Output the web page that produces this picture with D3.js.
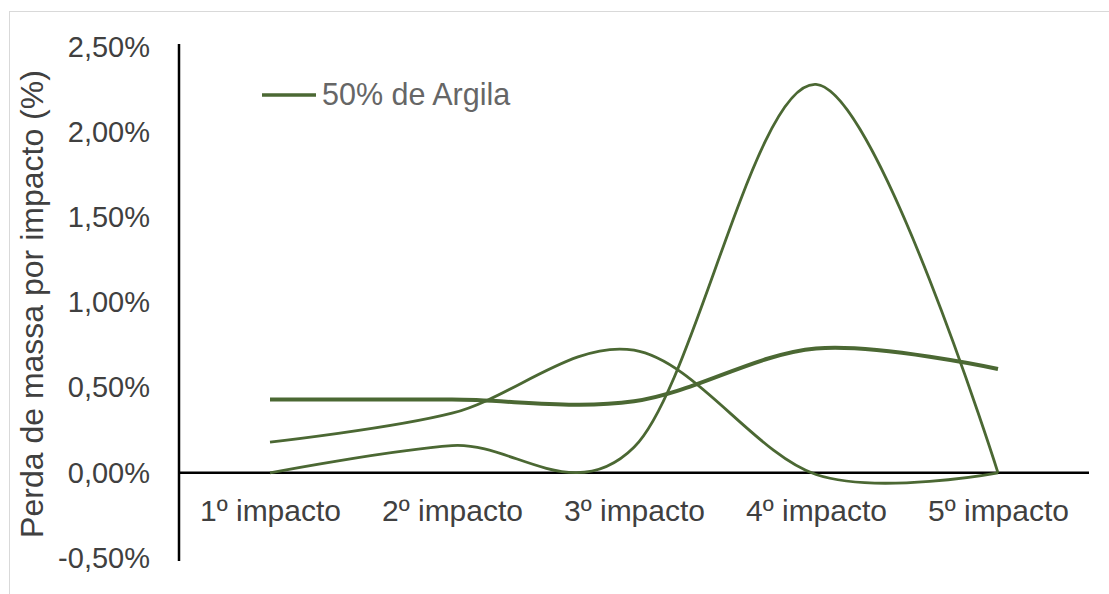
<!DOCTYPE html>
<html>
<head>
<meta charset="utf-8">
<script src="https://cdn.jsdelivr.net/npm/d3@7"></script>
<style>
  html, body { margin: 0; padding: 0; background: #fff; }
  svg { display: block; font-family: "Liberation Sans", Arial, sans-serif; }
</style>
</head>
<body>
<svg id="chart" width="1109" height="594"></svg>
<script>
// Mass loss per impact (%) for the 50% clay mix
const categories = ["1º impacto", "2º impacto", "3º impacto", "4º impacto", "5º impacto"];
const seriesMain = [0.43, 0.43, 0.42, 0.73, 0.61];
const seriesB = [0.18, 0.35, 0.72, -0.01, 0.00];
const seriesC = [0.00, 0.16, 0.15, 2.28, 0.00];
const yTicks = [-0.5, 0, 0.5, 1.0, 1.5, 2.0, 2.5];
const legendLabel = "50% de Argila";
const yTitle = "Perda de massa por impacto (%)";

const svg = d3.select("#chart");
const W = 1109, H = 594;
const lineColor = "#4b6833";
const textColor = "#404040";

// chart-area frame
svg.append("rect")
  .attr("x", 9.5).attr("y", 11.5)
  .attr("width", W + 20).attr("height", H + 20)
  .attr("fill", "#fff").attr("stroke", "#d9d9d9").attr("stroke-width", 1);

const x = d3.scalePoint().domain(categories).range([179, 1089]).padding(0.5);
const y = d3.scaleLinear().domain([-0.5, 2.5]).range([558, 47]);

const locale = d3.formatLocale({ decimal: ",", thousands: ".", grouping: [3], currency: ["", ""], minus: "-" });
const fmt = locale.format(".2f");

// y axis with tick labels
const yAxis = d3.axisLeft(y).tickValues(yTicks).tickSize(0).tickPadding(29)
  .tickFormat(d => fmt(d) + "%");
const gy = svg.append("g").attr("transform", "translate(179,0)").call(yAxis);
gy.select(".domain").remove();
gy.selectAll("text").attr("font-size", 29).attr("fill", textColor)
  .attr("font-family", "Liberation Sans, Arial, sans-serif");
svg.append("line").attr("x1", 179).attr("x2", 179).attr("y1", 44).attr("y2", 561)
  .attr("stroke", "#000").attr("stroke-width", 2.5);

// x axis at zero
const xAxis = d3.axisBottom(x).tickSize(0).tickPadding(27);
const gx = svg.append("g").attr("transform", `translate(0,${y(0)})`).call(xAxis);
gx.select(".domain").remove();
gx.selectAll("text").attr("font-size", 30).attr("fill", textColor)
  .attr("font-family", "Liberation Sans, Arial, sans-serif");
svg.append("line").attr("x1", 179).attr("x2", 1089).attr("y1", y(0)).attr("y2", y(0))
  .attr("stroke", "#000").attr("stroke-width", 2.5);

// y axis title
svg.append("text")
  .attr("transform", `translate(43,${304}) rotate(-90)`)
  .attr("text-anchor", "middle")
  .attr("font-size", 32).attr("fill", textColor)
  .text(yTitle);

// smoothed series lines
const line = d3.line()
  .x((d, i) => x(categories[i]))
  .y(d => y(d))
  .curve(d3.curveCatmullRom.alpha(0));

svg.append("path").datum(seriesB).attr("d", line)
  .attr("fill", "none").attr("stroke", lineColor).attr("stroke-width", 2.8);
svg.append("path").datum(seriesC).attr("d", line)
  .attr("fill", "none").attr("stroke", lineColor).attr("stroke-width", 2.8);
svg.append("path").datum(seriesMain).attr("d", line)
  .attr("fill", "none").attr("stroke", lineColor).attr("stroke-width", 4);

// legend
svg.append("line").attr("x1", 262).attr("x2", 316).attr("y1", 95).attr("y2", 95)
  .attr("stroke", lineColor).attr("stroke-width", 3.5);
svg.append("text").attr("x", 322).attr("y", 105)
  .attr("font-size", 30.5).attr("fill", "#666")
  .text(legendLabel);
</script>
</body>
</html>
